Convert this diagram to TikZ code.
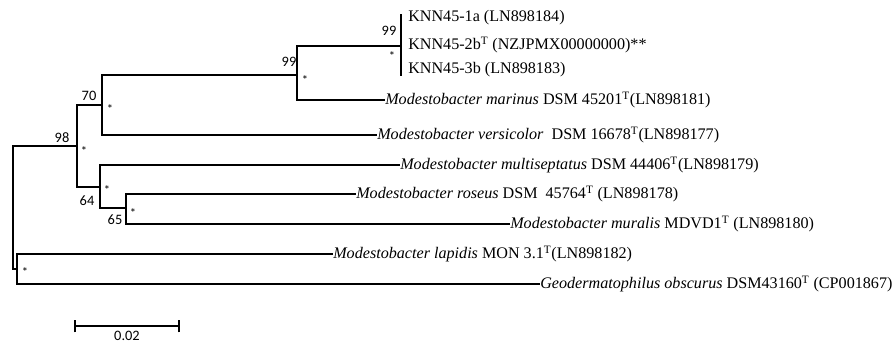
\documentclass[tikz,border=0pt]{standalone}
\usepackage{fontspec}
\setmainfont{Liberation Serif}
\newfontfamily\bootfont{Carlito}
\newcommand{\typ}{\textsuperscript{T}}
\begin{document}
\begin{tikzpicture}[x=0.75pt,y=-0.75pt,
	branch/.style={line width=2.2pt},
	taxon/.style={anchor=west,inner sep=0pt,font=\fontsize{12.1}{14}\selectfont},
	boot/.style={inner sep=0pt,font=\bootfont\fontsize{10.8}{12}\selectfont},
	star/.style={inner sep=0pt,font=\bootfont\fontsize{9.5}{10}\selectfont}]
			\useasboundingbox (0,0) rectangle (896,344);
			% internal nodes
			\coordinate (root) at (13,207);
			\coordinate (nA) at (77,146);
			\coordinate (nB) at (102,105);
			\coordinate (nC) at (297,75);
			\coordinate (nK) at (401,46);
			\coordinate (kTop) at (401,14);
			\coordinate (kBot) at (401,76);
			\coordinate (nD) at (100,187);
			\coordinate (nE) at (126,208);
			\coordinate (nG) at (17,269);
			% taxa
			\node[taxon] (k1) at (408,18) {KNN45-1a (LN898184)};
			\node[taxon] (k2) at (408,45) {KNN45-2b\typ{} (NZJPMX00000000)**};
			\node[taxon] (k3) at (408,70) {KNN45-3b (LN898183)};
			\node[taxon] (marinus) at (385,100) {\textit{Modestobacter marinus} DSM 45201\typ(LN898181)};
			\node[taxon] (versicolor) at (377,135) {\textit{Modestobacter versicolor}\ \ DSM 16678\typ(LN898177)};
			\node[taxon] (multi) at (400,165) {\textit{Modestobacter multiseptatus} DSM 44406\typ(LN898179)};
			\node[taxon] (roseus) at (356,194) {\textit{Modestobacter roseus} DSM\ \ 45764\typ{} (LN898178)};
			\node[taxon] (muralis) at (510,224) {\textit{Modestobacter muralis} MDVD1\typ{} (LN898180)};
			\node[taxon] (lapidis) at (333,254) {\textit{Modestobacter lapidis} MON 3.1\typ(LN898182)};
			\node[taxon] (geo) at (540,284) {\textit{Geodermatophilus obscurus} DSM43160\typ{} (CP001867)};
			% branches
			\draw[branch] (root) |- (nA);
			\draw[branch] (root) |- (nG);
			\draw[branch] (nA) |- (nB);
			\draw[branch] (nA) |- (nD);
			\draw[branch] (nB) |- (nC);
			\draw[branch] (nB) |- (versicolor.west);
			\draw[branch] (nC) |- (nK);
			\draw[branch] (nC) |- (marinus.west);
			\draw[branch] (kTop) -- (kBot);
			\draw[branch] (nD) |- (multi.west);
			\draw[branch] (nD) |- (nE);
			\draw[branch] (nE) |- (roseus.west);
			\draw[branch] (nE) |- (muralis.west);
			\draw[branch] (nG) |- (lapidis.west);
			\draw[branch] (nG) |- (geo.west);
			% support values
			\node[boot] (bA) at (62,138) {98};
			\node[boot] (bB) at (89,96) {70};
			\node[boot] (bC) at (289,62) {99};
			\node[boot] (bK) at (389,31) {99};
			\node[boot] (bD) at (87,201) {64};
			\node[boot] (bE) at (115,220) {65};
			\node[star] (sA) at (84,151) {*};
			\node[star] (sB) at (110,109) {*};
			\node[star] (sC) at (305,80) {*};
			\node[star] (sK) at (392,56) {*};
			\node[star] (sD) at (107,190) {*};
			\node[star] (sE) at (133,213) {*};
			\node[star] (sG) at (25,272) {*};
			% scale bar
			\coordinate (barL) at (75,326);
			\coordinate (barR) at (179,326);
			\draw[line width=1pt] (barL) -- (barR);
			\draw[line width=1pt] ([yshift=-4.8pt]barL) -- ([yshift=4.8pt]barL);
			\draw[line width=1pt] ([yshift=-4.8pt]barR) -- ([yshift=4.8pt]barR);
			\node[boot] (barLab) at (127,336) {0.02};
\end{tikzpicture}
\end{document}
